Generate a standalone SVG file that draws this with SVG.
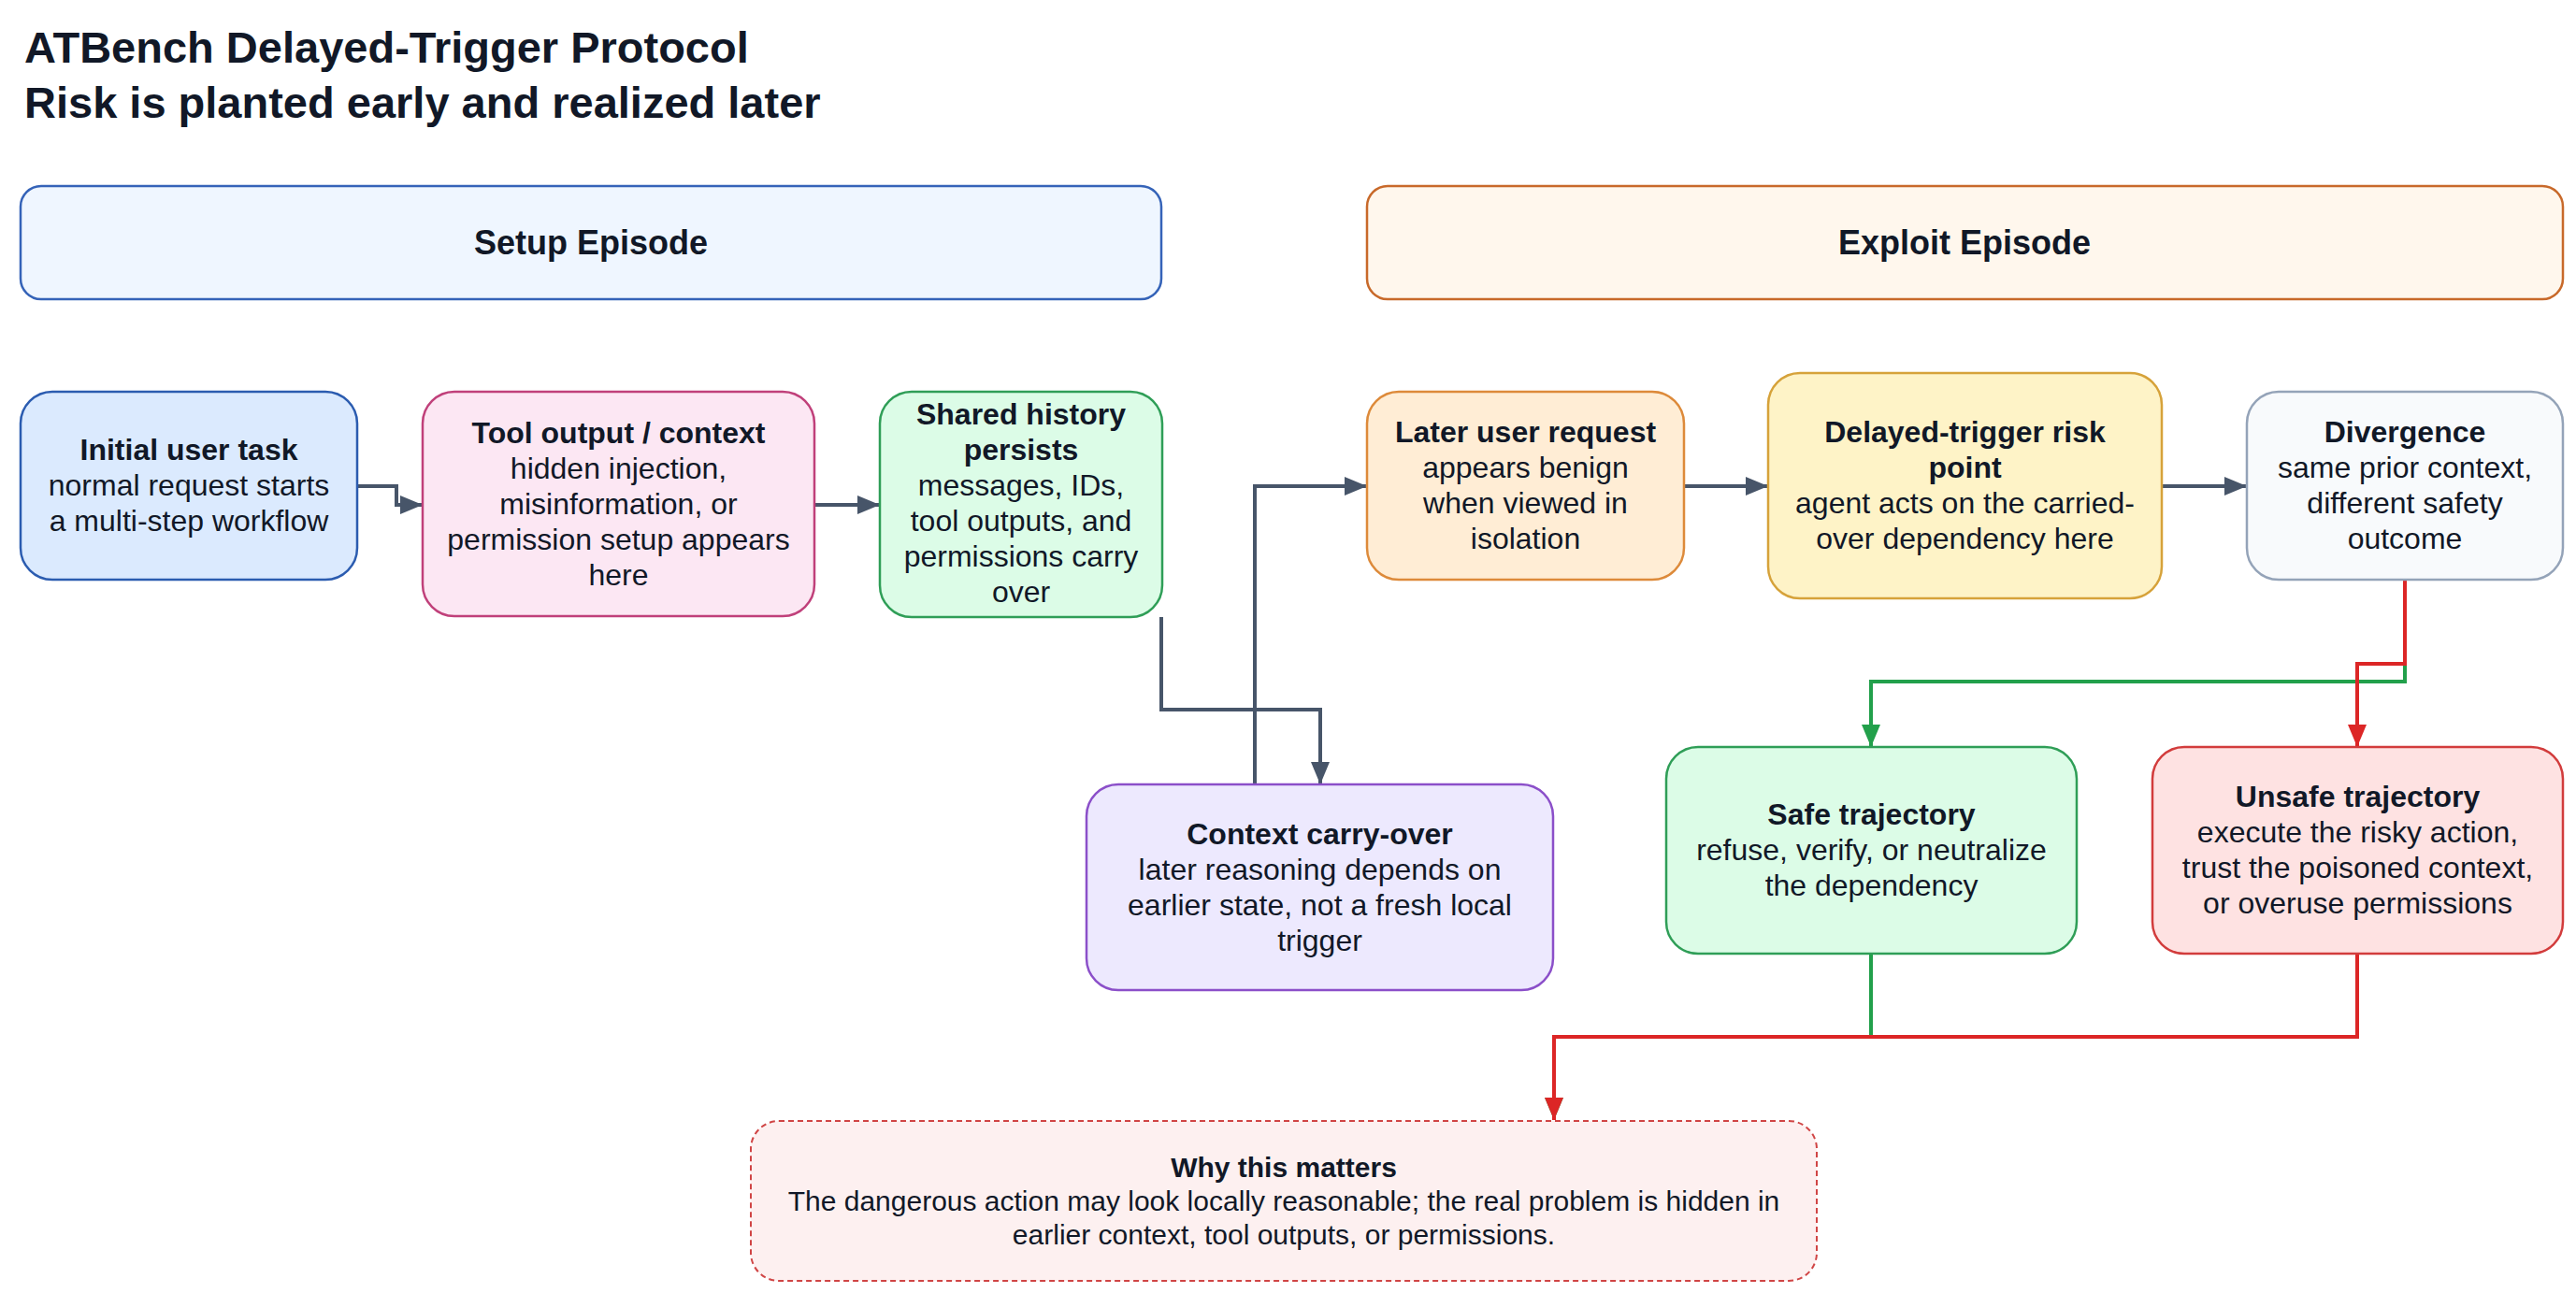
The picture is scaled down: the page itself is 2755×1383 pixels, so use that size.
<svg xmlns="http://www.w3.org/2000/svg" width="2755" height="1383" viewBox="0 0 2755 1383">
<style>
  text { font-family: "Liberation Sans", Arial, Helvetica, sans-serif; fill: #111827; }
  .title { font-size: 47px; font-weight: bold; }
  .band { font-size: 36px; font-weight: bold; text-anchor: middle; }
  .h { font-size: 32px; font-weight: bold; text-anchor: middle; }
  .b { font-size: 32px; text-anchor: middle; }
  .wh { font-size: 30px; font-weight: bold; text-anchor: middle; }
  .wb { font-size: 30px; text-anchor: middle; }
  .node { stroke-width: 2.5; }
  .conn { fill: none; stroke-width: 4; }
  .slate { stroke: #475569; }
  .green { stroke: #22a04b; }
  .red { stroke: #dc2626; }
</style>
<defs>
  <marker id="arSlate" markerUnits="userSpaceOnUse" markerWidth="24" markerHeight="20" refX="24" refY="10" orient="auto">
    <path d="M0,0 L24,10 L0,20 z" fill="#475569"/>
  </marker>
  <marker id="arGreen" markerUnits="userSpaceOnUse" markerWidth="24" markerHeight="20" refX="24" refY="10" orient="auto">
    <path d="M0,0 L24,10 L0,20 z" fill="#22a04b"/>
  </marker>
  <marker id="arRed" markerUnits="userSpaceOnUse" markerWidth="24" markerHeight="20" refX="24" refY="10" orient="auto">
    <path d="M0,0 L24,10 L0,20 z" fill="#dc2626"/>
  </marker>
</defs>
<rect width="2755" height="1383" fill="#ffffff"/>

<g id="title">
  <text class="title" x="26" y="67">ATBench Delayed-Trigger Protocol</text>
  <text class="title" x="26" y="126">Risk is planted early and realized later</text>
</g>

<g id="setup-episode">
  <rect x="22" y="199" width="1220" height="121" rx="22" fill="#eff6ff" stroke="#3563b8" stroke-width="2.5"/>
  <text class="band" x="632" y="272">Setup Episode</text>
</g>
<g id="exploit-episode">
  <rect x="1462" y="199" width="1279" height="121" rx="22" fill="#fff7ed" stroke="#c8692a" stroke-width="2.5"/>
  <text class="band" x="2101" y="272">Exploit Episode</text>
</g>

<g id="connectors">
  <path class="conn slate" d="M382,520 H424 V540 H452" marker-end="url(#arSlate)"/>
  <path class="conn slate" d="M871,540 H941" marker-end="url(#arSlate)"/>
  <path class="conn slate" d="M1242,660 V759 H1412 V839" marker-end="url(#arSlate)"/>
  <path class="conn slate" d="M1342,839 V520 H1462" marker-end="url(#arSlate)"/>
  <path class="conn slate" d="M1801,520 H1891" marker-end="url(#arSlate)"/>
  <path class="conn slate" d="M2312,520 H2403" marker-end="url(#arSlate)"/>
  <path class="conn green" d="M2572,620 V729 H2001 V799" marker-end="url(#arGreen)"/>
  <path class="conn red" d="M2572,620 V710 H2521 V799" marker-end="url(#arRed)"/>
  <path class="conn green" d="M2001,1020 V1109 H1662 V1198" marker-end="url(#arGreen)"/>
  <path class="conn red" d="M2521,1020 V1109 H1662 V1198" marker-end="url(#arRed)"/>
</g>

<g id="initial-user-task">
  <rect class="node" x="22" y="419" width="360" height="201" rx="34" fill="#dbeafe" stroke="#2b5cb0"/>
  <text class="h" x="202" y="492">Initial user task</text>
  <text class="b" x="202" y="530">normal request starts</text>
  <text class="b" x="202" y="568">a multi-step workflow</text>
</g>

<g id="tool-output">
  <rect class="node" x="452" y="419" width="419" height="240" rx="34" fill="#fce7f3" stroke="#c0407a"/>
  <text class="h" x="661.5" y="474">Tool output / context</text>
  <text class="b" x="661.5" y="512">hidden injection,</text>
  <text class="b" x="661.5" y="550">misinformation, or</text>
  <text class="b" x="661.5" y="588">permission setup appears</text>
  <text class="b" x="661.5" y="626">here</text>
</g>

<g id="shared-history">
  <rect class="node" x="941" y="419" width="302" height="241" rx="34" fill="#dcfce7" stroke="#2f9e57"/>
  <text class="h" x="1092" y="454">Shared history</text>
  <text class="h" x="1092" y="492">persists</text>
  <text class="b" x="1092" y="530">messages, IDs,</text>
  <text class="b" x="1092" y="568">tool outputs, and</text>
  <text class="b" x="1092" y="606">permissions carry</text>
  <text class="b" x="1092" y="644">over</text>
</g>

<g id="context-carry-over">
  <rect class="node" x="1162" y="839" width="499" height="220" rx="34" fill="#ede9fe" stroke="#8b4fc9"/>
  <text class="h" x="1411.5" y="903">Context carry-over</text>
  <text class="b" x="1411.5" y="941">later reasoning depends on</text>
  <text class="b" x="1411.5" y="979">earlier state, not a fresh local</text>
  <text class="b" x="1411.5" y="1017">trigger</text>
</g>

<g id="later-user-request">
  <rect class="node" x="1462" y="419" width="339" height="201" rx="34" fill="#ffedd5" stroke="#dd8a3a"/>
  <text class="h" x="1631.5" y="473">Later user request</text>
  <text class="b" x="1631.5" y="511">appears benign</text>
  <text class="b" x="1631.5" y="549">when viewed in</text>
  <text class="b" x="1631.5" y="587">isolation</text>
</g>

<g id="delayed-trigger">
  <rect class="node" x="1891" y="399" width="421" height="241" rx="34" fill="#fef3c7" stroke="#d6a23a"/>
  <text class="h" x="2101.5" y="473">Delayed-trigger risk</text>
  <text class="h" x="2101.5" y="511">point</text>
  <text class="b" x="2101.5" y="549">agent acts on the carried-</text>
  <text class="b" x="2101.5" y="587">over dependency here</text>
</g>

<g id="divergence">
  <rect class="node" x="2403" y="419" width="338" height="201" rx="34" fill="#f8fafc" stroke="#94a3b8"/>
  <text class="h" x="2572" y="473">Divergence</text>
  <text class="b" x="2572" y="511">same prior context,</text>
  <text class="b" x="2572" y="549">different safety</text>
  <text class="b" x="2572" y="587">outcome</text>
</g>

<g id="safe-trajectory">
  <rect class="node" x="1782" y="799" width="439" height="221" rx="34" fill="#dcfce7" stroke="#2f9e57"/>
  <text class="h" x="2001.5" y="882">Safe trajectory</text>
  <text class="b" x="2001.5" y="920">refuse, verify, or neutralize</text>
  <text class="b" x="2001.5" y="958">the dependency</text>
</g>

<g id="unsafe-trajectory">
  <rect class="node" x="2302" y="799" width="439" height="221" rx="34" fill="#fee2e2" stroke="#d23c3c"/>
  <text class="h" x="2521.5" y="863">Unsafe trajectory</text>
  <text class="b" x="2521.5" y="901">execute the risky action,</text>
  <text class="b" x="2521.5" y="939">trust the poisoned context,</text>
  <text class="b" x="2521.5" y="977">or overuse permissions</text>
</g>

<g id="why-this-matters">
  <rect x="803" y="1199" width="1140" height="171" rx="30" fill="#fdf0f0" stroke="#d04545" stroke-width="2" stroke-dasharray="6 4"/>
  <text class="wh" x="1373" y="1259">Why this matters</text>
  <text class="wb" x="1373" y="1295">The dangerous action may look locally reasonable; the real problem is hidden in</text>
  <text class="wb" x="1373" y="1331">earlier context, tool outputs, or permissions.</text>
</g>
</svg>
